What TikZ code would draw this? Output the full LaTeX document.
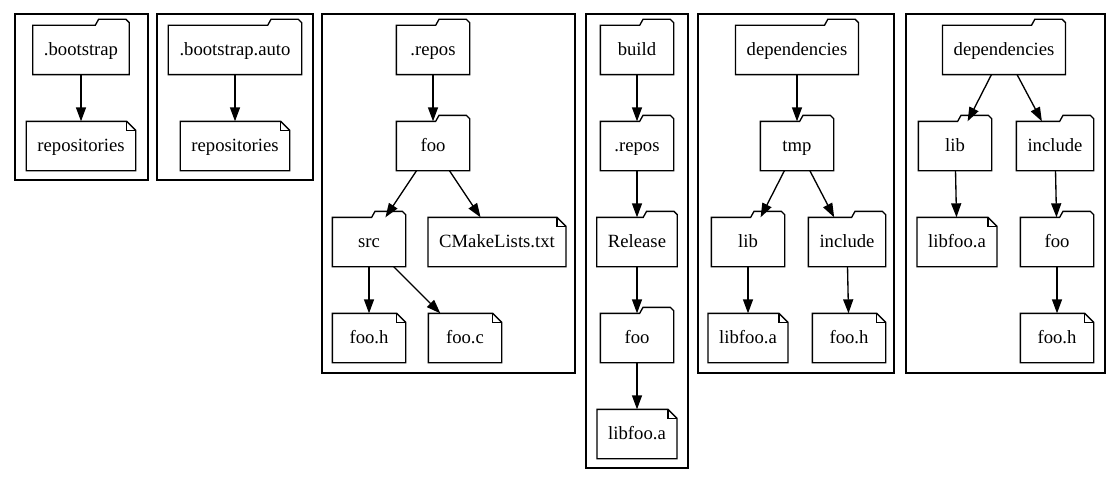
\documentclass[tikz,border=0pt]{standalone}
\usepackage{fontspec}
\setmainfont{Liberation Serif}
\usetikzlibrary{arrows.meta}

\begin{document}
\begin{tikzpicture}[x=0.75pt,y=-0.75pt,line width=1pt,
  box/.style={rectangle,minimum width=54pt,minimum height=36pt,inner xsep=7.9pt,inner ysep=0pt,
    text height=11pt,text depth=2.4pt,font=\fontsize{14}{16}\selectfont},
  folder/.style={box,append after command={\pgfextra{\draw (\tikzlastnode.south west) -- (\tikzlastnode.north west)
    -- ([xshift=-25.5pt]\tikzlastnode.north east) -- ([xshift=-23pt,yshift=4.5pt]\tikzlastnode.north east)
    -- ([xshift=-2.5pt,yshift=4.5pt]\tikzlastnode.north east) -- ([yshift=2pt]\tikzlastnode.north east)
    -- (\tikzlastnode.south east) -- cycle;}}},
  note/.style={box,append after command={\pgfextra{\draw (\tikzlastnode.south west) -- (\tikzlastnode.north west)
    -- ([xshift=-6.75pt]\tikzlastnode.north east) -- ([yshift=-6.75pt]\tikzlastnode.north east)
    -- (\tikzlastnode.south east) -- cycle;
    \draw ([xshift=-6.75pt]\tikzlastnode.north east) |- ([yshift=-6.75pt]\tikzlastnode.north east);}}},
  link/.style={-{Triangle[length=10.5pt,width=7.5pt]}}]
\useasboundingbox (0,0) rectangle (1120,485);
% clusters
\foreach \a/\b/\c/\d in {15/14/148/180,157/14/313/180,322/14/575/373,586/14/688/468,698/14/894/373,906/14/1105/373}
  {\draw (\a,\b) rectangle (\c,\d);}
% .bootstrap
\node[folder] (bs) at (81,50) {.bootstrap};
\node[note] (bsrepo) at (81,146) {repositories};
% .bootstrap.auto
\node[folder] (bsa) at (235,50) {.bootstrap.auto};
\node[note] (bsarepo) at (235,146) {repositories};
% .repos
\node[folder] (repos) at (433,50) {.repos};
\node[folder] (foo) at (433,146) {foo};
\node[folder] (src) at (369,242) {src};
\node[note] (cmake) at (497,242) {CMakeLists.txt};
\node[note] (fooh) at (369,338) {foo.h};
\node[note] (fooc) at (465,338) {foo.c};
% build
\node[folder] (build) at (637,50) {build};
\node[folder] (brepos) at (637,146) {.repos};
\node[folder] (release) at (637,242) {Release};
\node[folder] (bfoo) at (637,338) {foo};
\node[note] (blib) at (637,434) {libfoo.a};
% dependencies/tmp
\node[folder] (dep) at (797,50) {dependencies};
\node[folder] (tmp) at (797,146) {tmp};
\node[folder] (lib) at (748,242) {lib};
\node[folder] (inc) at (847,242) {include};
\node[note] (liba) at (748,338) {libfoo.a};
\node[note] (inch) at (849,338) {foo.h};
% dependencies
\node[folder] (dept) at (1004,50) {dependencies};
\node[folder] (libt) at (955,146) {lib};
\node[folder] (inct) at (1055,146) {include};
\node[note] (libat) at (957,242) {libfoo.a};
\node[folder] (foot) at (1057,242) {foo};
\node[note] (fooht) at (1057,338) {foo.h};
% edges
\foreach \s/\t in {bs/bsrepo,bsa/bsarepo,repos/foo,foo/src,foo/cmake,src/fooh,src/fooc,
  build/brepos,brepos/release,release/bfoo,bfoo/blib,dep/tmp,tmp/lib,tmp/inc,lib/liba,inc/inch,
  dept/libt,dept/inct,libt/libat,inct/foot,foot/fooht}
  {\draw[link] (\s) -- (\t);}
\end{tikzpicture}
\end{document}
